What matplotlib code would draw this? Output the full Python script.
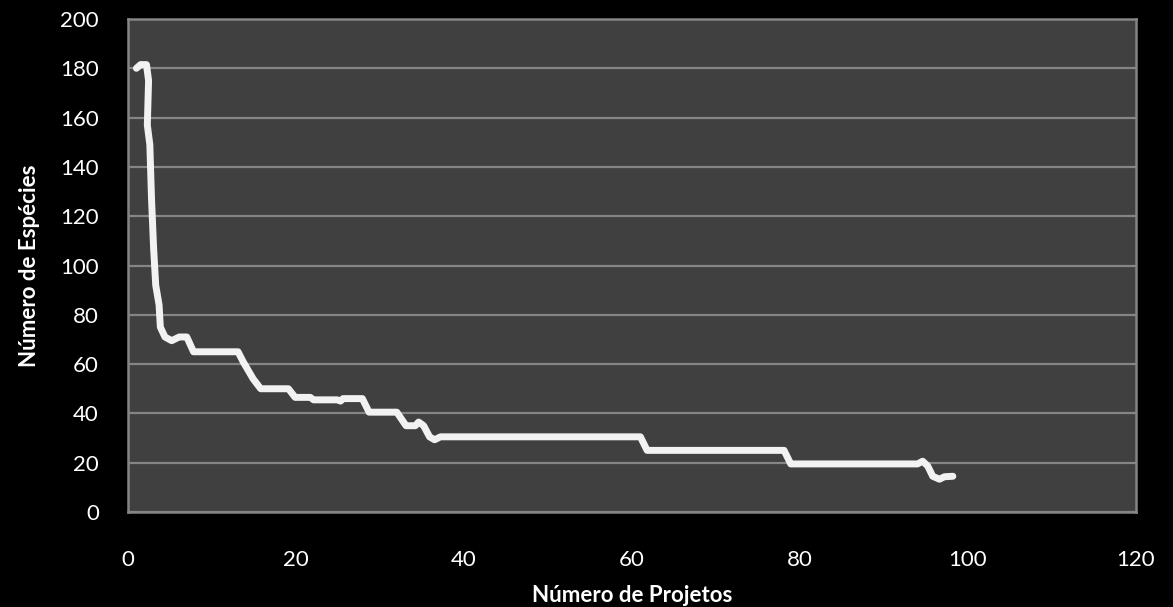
import matplotlib.pyplot as plt

# pontos (curva de espécies x projetos)
projetos = [1.0, 1.5, 2.2, 2.45, 2.3, 2.6, 2.8, 3.05, 3.3, 3.7, 3.85, 4.4, 5.2,
            6.1, 7.0, 7.8, 13.1, 13.7, 14.9, 15.8, 19.1, 19.9, 21.7, 22.1,
            24.9, 25.3, 25.6, 27.9, 28.7, 32.0, 33.1, 34.2, 34.6, 35.2, 35.9,
            36.5, 37.2, 61.0, 61.8, 78.1, 78.9, 94.0, 94.6, 95.2, 95.8, 96.6,
            97.2, 98.2]
especies = [180, 181.5, 181.5, 175, 157, 149, 127, 107, 92, 84, 75, 71, 69.5,
            71, 71, 65, 65, 61, 54, 50, 50, 46.5, 46.5, 45.5,
            45.5, 45, 46, 46, 40.5, 40.5, 35, 35, 36.5, 35, 30.5,
            29.3, 30.5, 30.5, 25, 25, 19.5, 19.5, 20.6, 18.7, 14.5, 13.3,
            14.3, 14.5]

xticks = [0, 20, 40, 60, 80, 100, 120]
yticks = [0, 20, 40, 60, 80, 100, 120, 140, 160, 180, 200]

plt.rcParams['font.family'] = ['Lato', 'DejaVu Sans']

fig = plt.figure(figsize=(11.73, 6.07), dpi=100, facecolor='black')
ax = fig.add_axes([128 / 1173, 95 / 607, 1008 / 1173, 493 / 607])
ax.set_facecolor('#404040')

ax.plot(projetos, especies, color='#F2F2F2', linewidth=5,
        solid_joinstyle='round', solid_capstyle='round', zorder=3)

ax.set_xlim(0, 120)
ax.set_ylim(0, 200)
ax.set_xticks(xticks)
ax.set_yticks(yticks)

ax.grid(axis='y', color='#858585', linewidth=1.6)
ax.set_axisbelow(True)
for s in ax.spines.values():
    s.set_color('#858585')
    s.set_linewidth(1.8)

ax.tick_params(axis='both', length=0, colors='white', labelsize=16)
ax.tick_params(axis='y', pad=21)
ax.tick_params(axis='x', pad=27)

ax.set_xlabel('Número de Projetos', color='white', fontsize=16,
              fontweight='bold', va='baseline')
ax.xaxis.set_label_coords(0.5, -0.183)
ax.set_ylabel('Número de Espécies', color='white', fontsize=16,
              fontweight='bold', va='center')
ax.yaxis.set_label_coords(-0.098, 0.5)

fig.savefig('out.png', dpi=100, facecolor='black')
